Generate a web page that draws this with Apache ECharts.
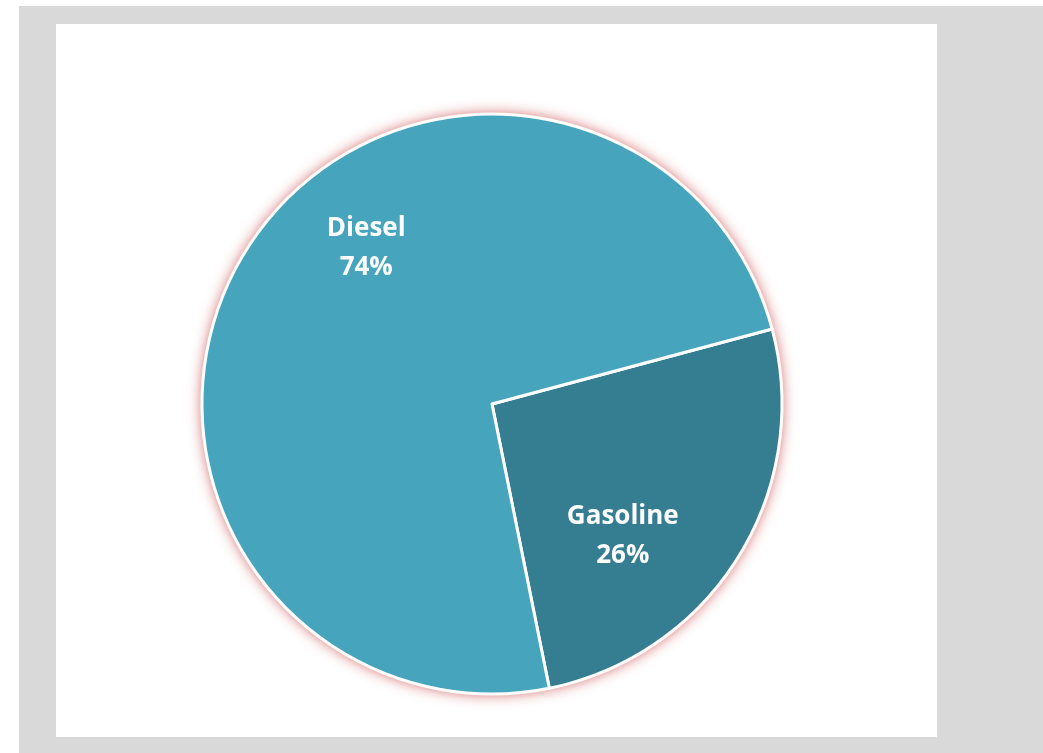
<!DOCTYPE html>
<html>
<head>
<meta charset="utf-8">
<script src="https://cdn.jsdelivr.net/npm/echarts@6/dist/echarts.min.js"></script>
<style>
  html, body { margin: 0; padding: 0; background: #ffffff; }
  #frame { position: absolute; left: 19px; top: 6px; width: 1024px; height: 747px; background: #d9d9d9; }
  #chart { position: absolute; left: 56px; top: 24px; width: 881px; height: 713px; background: #ffffff; }
</style>
</head>
<body>
<div id="frame"></div>
<div id="chart"></div>
<script>
// Fuel split by type
const categories = ['Gasoline', 'Diesel'];
const shares = [26, 74];
const sliceColors = ['#357d91', '#46a4bd'];
const labelOffsets = [[5, 54], [0, -78]];

const chart = echarts.init(document.getElementById('chart'), null, { renderer: 'canvas' });

const pieCenter = [436, 380];
const pieRadius = 290;

const sliceData = categories.map((name, i) => ({
  name,
  value: shares[i],
  itemStyle: { color: sliceColors[i] },
  label: { offset: labelOffsets[i] }
}));

const haloData = categories.map((name, i) => ({ name, value: shares[i] }));

chart.setOption({
  animation: false,
  series: [
    {
      // soft red halo underneath the pie
      type: 'pie',
      silent: true,
      z: 1,
      center: pieCenter,
      radius: pieRadius,
      startAngle: 15,
      clockwise: true,
      label: { show: false },
      labelLine: { show: false },
      itemStyle: {
        color: '#ffffff',
        borderWidth: 0,
        shadowBlur: 14,
        shadowColor: 'rgba(200, 60, 60, 0.85)'
      },
      emphasis: { disabled: true },
      data: haloData
    },
    {
      type: 'pie',
      z: 2,
      center: pieCenter,
      radius: pieRadius,
      startAngle: 15,
      clockwise: true,
      itemStyle: { borderColor: '#ffffff', borderWidth: 3 },
      label: {
        show: true,
        position: 'inside',
        formatter: p => p.name + '\n' + p.value + '%',
        color: '#ffffff',
        fontFamily: 'Open Sans',
        fontWeight: 'bold',
        fontSize: 26,
        lineHeight: 39,
        align: 'center'
      },
      labelLine: { show: false },
      emphasis: { disabled: true },
      data: sliceData
    }
  ]
});
</script>
</body>
</html>
